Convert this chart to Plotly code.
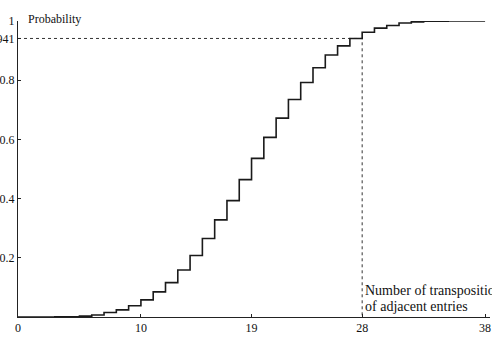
import plotly.graph_objects as go

# Number of transpositions of adjacent entries (step positions)
k_values = list(range(0, 39))
# Cumulative probability P(X <= k) (last value repeated to close the final step)
cum_prob = [0.0, 0.0, 0.0, 0.0005, 0.001, 0.003, 0.007, 0.015, 0.024, 0.038,
            0.058, 0.085, 0.116, 0.159, 0.208, 0.265, 0.328, 0.393, 0.464, 0.536,
            0.607, 0.672, 0.735, 0.792, 0.842, 0.885, 0.916, 0.941, 0.962, 0.976,
            0.985, 0.993, 0.997, 0.999, 0.9995, 1.0, 1.0, 1.0, 1.0]

x_ticks = [0, 10, 19, 28, 38]
x_tick_labels = ["0", "10", "19", "28", "38"]
y_ticks = [0.2, 0.4, 0.6, 0.8, 0.941, 1.0]
y_tick_labels = ["0.2", "0.4", "0.6", "0.8", "0.941", "1"]

marker_x = 28
marker_p = 0.941

x_title_lines = ["Number of transpositions", "of adjacent entries"]

FONT = "Liberation Serif"

fig = go.Figure()

fig.add_trace(go.Scatter(
    x=[0, marker_x, marker_x], y=[marker_p, marker_p, 0],
    mode="lines", line=dict(color="#333333", width=1, dash="dot"),
    hoverinfo="skip", showlegend=False))

fig.add_trace(go.Scatter(
    x=k_values, y=cum_prob, mode="lines", line_shape="hv",
    line=dict(color="#1a1a1a", width=1.6), showlegend=False))

annotations = [
    dict(text="Probability", xref="paper", yref="paper", x=8/472, y=1.0,
         xanchor="left", yanchor="middle", yshift=2, showarrow=False,
         font=dict(family=FONT, size=12)),
]
for line_text, y_frac in zip(x_title_lines, [0.088, 0.034]):
    annotations.append(dict(text=line_text, xref="x", yref="paper", x=marker_x, y=y_frac,
                            xanchor="left", yanchor="middle", xshift=1, showarrow=False,
                            font=dict(family=FONT, size=14)))

fig.update_layout(
    width=492, height=337,
    margin=dict(l=18, r=2, t=21, b=20, autoexpand=False),
    paper_bgcolor="white", plot_bgcolor="white",
    font=dict(family=FONT, size=12, color="#111111"),
    xaxis=dict(range=[0, 38.4], tickvals=x_ticks, ticktext=x_tick_labels,
               showgrid=False, zeroline=False, showline=True, linecolor="#222222",
               linewidth=1, ticks="inside", ticklen=3, tickcolor="#222222",
               automargin=False, fixedrange=True),
    yaxis=dict(range=[0, 1], tickvals=y_ticks, ticktext=y_tick_labels,
               showgrid=False, zeroline=False, showline=True, linecolor="#222222",
               linewidth=1, ticks="inside", ticklen=3, tickcolor="#222222",
               automargin=False, fixedrange=True),
    annotations=annotations,
)

fig.write_html("out.html")
